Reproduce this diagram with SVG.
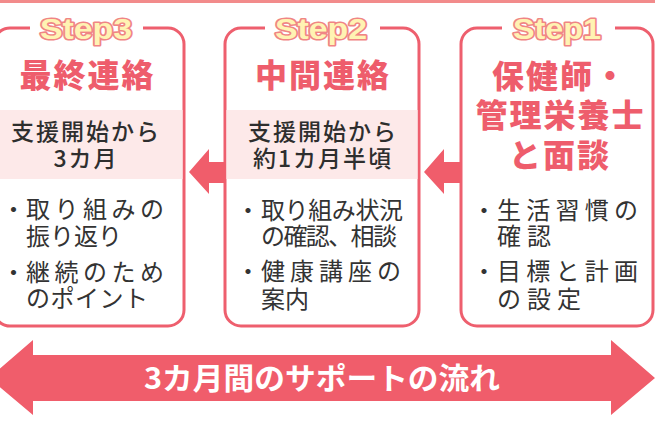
<svg xmlns="http://www.w3.org/2000/svg" width="655" height="421" viewBox="0 0 655 421">
<style>
.box{fill:#ffffff;stroke:#ee5f6e;stroke-width:3}
.band{fill:#fde9e9}
.mask{fill:#ffffff}
.step{font-family:"Liberation Sans",Arial,sans-serif;font-weight:700;font-size:29px;fill:#fff3b3;stroke:#f08585;stroke-width:3.2;paint-order:stroke;stroke-linejoin:round;text-anchor:middle}
.title{font-family:"Noto Sans CJK JP",sans-serif;font-weight:900;font-size:32px;fill:#ee5d6c;text-anchor:middle;letter-spacing:2px}
.sub{font-family:"Noto Sans CJK JP",sans-serif;font-weight:500;font-size:23px;fill:#2e2e2e;text-anchor:middle;letter-spacing:2px}
.item{font-family:"Noto Sans CJK JP",sans-serif;font-weight:400;font-size:24px;fill:#333333}
.arrow{fill:#f05d6b}
.flowtext{font-family:"Noto Sans CJK JP",sans-serif;font-weight:700;font-size:30px;fill:#ffffff;text-anchor:middle}
</style>
<rect x="0" y="0" width="655" height="421" fill="#ffffff"/>
<rect x="0" y="0" width="655" height="3" fill="#f28b8b"/>

<g id="step3">
<rect class="box" x="-6" y="28" width="190" height="298" rx="16"/>
<rect class="band" x="-4.5" y="110" width="187" height="69"/>
<rect class="mask" x="30" y="24" width="113" height="8"/>
<text class="step" x="86" y="38.5" textLength="92" lengthAdjust="spacingAndGlyphs">Step3</text>
<text class="title" x="87.5" y="87">最終連絡</text>
<text class="sub" x="86" y="140">支援開始から<tspan x="86" dy="27">3カ月</tspan></text>
<text class="item" y="218"><tspan x="1.5">・</tspan><tspan x="26" letter-spacing="4.5">取り組みの</tspan><tspan x="26" dy="27">振り返り</tspan></text>
<text class="item" y="281"><tspan x="1.5">・</tspan><tspan x="26" letter-spacing="4.5">継続のため</tspan><tspan x="26" dy="26" letter-spacing="0.5">のポイント</tspan></text>
</g>

<g id="step2">
<rect class="box" x="225" y="28" width="194" height="298" rx="16"/>
<rect class="band" x="226.5" y="110" width="191" height="69"/>
<rect class="mask" x="265" y="24" width="115" height="8"/>
<text class="step" x="321" y="38.5" textLength="92" lengthAdjust="spacingAndGlyphs">Step2</text>
<text class="title" x="323" y="87">中間連絡</text>
<text class="sub" x="323" y="140">支援開始から<tspan x="323" dy="27">約1カ月半頃</tspan></text>
<text class="item" y="219"><tspan x="236">・</tspan><tspan x="261" letter-spacing="-0.4">取り組み状況</tspan><tspan x="261" dy="26" letter-spacing="-1.6">の確認、相談</tspan></text>
<text class="item" y="280"><tspan x="236">・</tspan><tspan x="261" letter-spacing="5">健康講座の</tspan><tspan x="261" dy="28">案内</tspan></text>
</g>

<g id="step1">
<rect class="box" x="461" y="28" width="192" height="298" rx="16"/>
<rect class="mask" x="502" y="24" width="113" height="8"/>
<text class="step" x="557" y="38.5" textLength="88" lengthAdjust="spacingAndGlyphs">Step1</text>
<text class="title" x="560" y="88">保健師・<tspan x="560.5" dy="39">管理栄養士</tspan><tspan x="560" dy="40">と面談</tspan></text>
<text class="item" y="219"><tspan x="472">・</tspan><tspan x="497" letter-spacing="5.25">生活習慣の</tspan><tspan x="497" dy="26" letter-spacing="6">確認</tspan></text>
<text class="item" y="280"><tspan x="472">・</tspan><tspan x="497" letter-spacing="5.25">目標と計画</tspan><tspan x="497" dy="28" letter-spacing="6">の設定</tspan></text>
</g>

<g id="connectors">
<polygon class="arrow" points="189,172 209,149 209,162 225,162 225,183 209,183 209,194"/>
<polygon class="arrow" points="424,172 444,149 444,162 461,162 461,183 444,183 444,194"/>
</g>

<g id="flow-banner">
<polygon class="arrow" points="-11,378 33,340 33,355 611,355 611,340 655,378 611,415 611,401 33,401 33,415"/>
<text class="flowtext" x="322" y="389" textLength="356" lengthAdjust="spacingAndGlyphs">3カ月間のサポートの流れ</text>
</g>
</svg>
